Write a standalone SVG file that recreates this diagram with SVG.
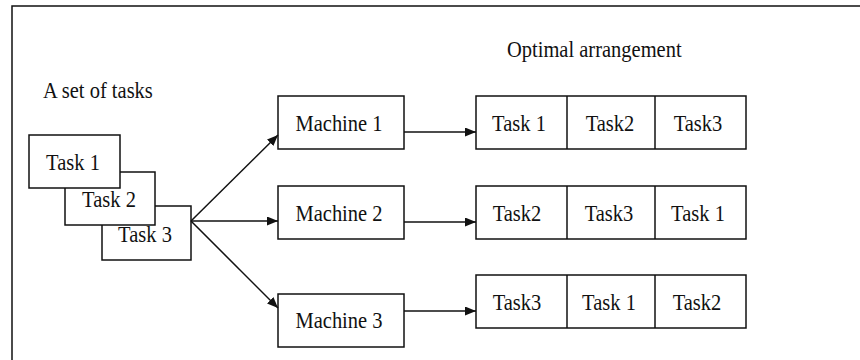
<svg xmlns="http://www.w3.org/2000/svg" width="860" height="360" viewBox="0 0 860 360">
  <style>
    .box { fill: #fff; stroke: #111; stroke-width: 1.5; }
    .lbl { font-family: "Liberation Serif", "Times New Roman", serif; font-size: 20.5px; fill: #111; text-anchor: middle; }
    .title { font-family: "Liberation Serif", "Times New Roman", serif; font-size: 20.5px; fill: #111; }
    .edge { stroke: #111; stroke-width: 1.5; fill: none; marker-end: url(#arrow); }
    .frame { stroke: #111; stroke-width: 1.5; fill: none; }
  </style>
  <defs>
    <marker id="arrow" viewBox="0 0 11 9" refX="11" refY="4.5" markerWidth="11" markerHeight="9" markerUnits="userSpaceOnUse" orient="auto">
      <path d="M0,0 L11,4.5 L0,9 Z" fill="#111"/>
    </marker>
  </defs>

  <rect width="860" height="360" fill="#fff"/>
  <!-- open frame: top and left edges only -->
  <path class="frame" d="M12,360 L12,6 L860,6"/>

  <!-- text is set slightly tall (vertical scale 1.15) -->
  <text class="title" transform="matrix(1 0 0 1.15 43 98)">A set of tasks</text>
  <text class="title" transform="matrix(1 0 0 1.15 507 57)">Optimal arrangement</text>

  <!-- stacked task cards, back to front -->
  <g id="task3">
    <rect class="box" x="102" y="206" width="89" height="54"/>
    <text class="lbl" transform="matrix(1 0 0 1.15 145 242)">Task 3</text>
  </g>
  <g id="task2">
    <rect class="box" x="65" y="172" width="90" height="53"/>
    <text class="lbl" transform="matrix(1 0 0 1.15 109 207)">Task 2</text>
  </g>
  <g id="task1">
    <rect class="box" x="29" y="135" width="91" height="53"/>
    <text class="lbl" transform="matrix(1 0 0 1.15 73 170)">Task 1</text>
  </g>

  <!-- machines -->
  <g id="machine1">
    <rect class="box" x="278" y="96" width="126" height="53"/>
    <text class="lbl" transform="matrix(1 0 0 1.15 339 131)">Machine 1</text>
  </g>
  <g id="machine2">
    <rect class="box" x="278" y="186" width="126" height="53"/>
    <text class="lbl" transform="matrix(1 0 0 1.15 339 221)">Machine 2</text>
  </g>
  <g id="machine3">
    <rect class="box" x="278" y="294" width="126" height="53"/>
    <text class="lbl" transform="matrix(1 0 0 1.15 339 328)">Machine 3</text>
  </g>

  <!-- task sequences per machine -->
  <g id="sequence1">
    <rect class="box" x="476" y="96" width="270" height="53"/>
    <line class="frame" x1="567" y1="96" x2="567" y2="149"/>
    <line class="frame" x1="655" y1="96" x2="655" y2="149"/>
    <text class="lbl" transform="matrix(1 0 0 1.15 519 131)">Task 1</text>
    <text class="lbl" transform="matrix(1 0 0 1.15 610 131)">Task2</text>
    <text class="lbl" transform="matrix(1 0 0 1.15 698 131)">Task3</text>
  </g>
  <g id="sequence2">
    <rect class="box" x="476" y="186" width="270" height="53"/>
    <line class="frame" x1="567" y1="186" x2="567" y2="239"/>
    <line class="frame" x1="655" y1="186" x2="655" y2="239"/>
    <text class="lbl" transform="matrix(1 0 0 1.15 517 221)">Task2</text>
    <text class="lbl" transform="matrix(1 0 0 1.15 609 221)">Task3</text>
    <text class="lbl" transform="matrix(1 0 0 1.15 698 221)">Task 1</text>
  </g>
  <g id="sequence3">
    <rect class="box" x="476" y="275" width="270" height="53"/>
    <line class="frame" x1="567" y1="275" x2="567" y2="328"/>
    <line class="frame" x1="655" y1="275" x2="655" y2="328"/>
    <text class="lbl" transform="matrix(1 0 0 1.15 517 310)">Task3</text>
    <text class="lbl" transform="matrix(1 0 0 1.15 609 310)">Task 1</text>
    <text class="lbl" transform="matrix(1 0 0 1.15 697 310)">Task2</text>
  </g>

  <g id="connectors">
    <line class="edge" x1="191" y1="221" x2="278" y2="135"/>
    <line class="edge" x1="191" y1="221" x2="278" y2="221"/>
    <line class="edge" x1="191" y1="221" x2="278" y2="308"/>
    <line class="edge" x1="404" y1="132" x2="476" y2="132"/>
    <line class="edge" x1="404" y1="222" x2="476" y2="222"/>
    <line class="edge" x1="404" y1="311" x2="476" y2="311"/>
  </g>
</svg>
